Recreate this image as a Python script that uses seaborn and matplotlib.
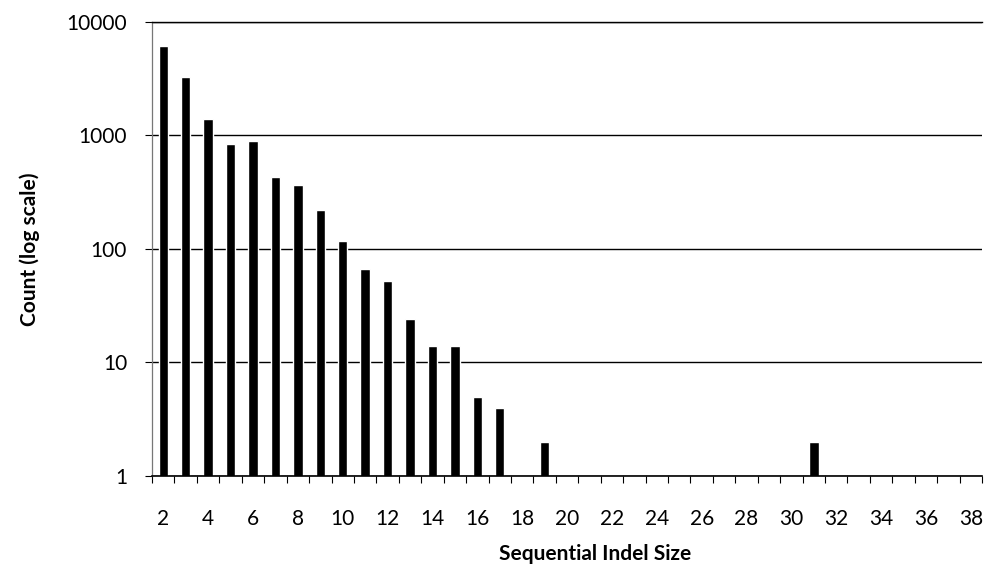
import numpy as np
import pandas as pd
import matplotlib
matplotlib.use("Agg")
import matplotlib.pyplot as plt
import seaborn as sns
from matplotlib.ticker import FixedLocator, FixedFormatter, NullLocator

# Category axis: every indel size from 2 to 38
sizes = list(range(2, 39))

# Observed sizes and their counts
bar_sizes = [2, 3, 4, 5, 6, 7, 8, 9, 10, 11, 12, 13, 14, 15, 16, 17, 19, 31]
counts = [6200, 3300, 1400, 840, 900, 430, 365, 220, 118, 66, 52, 24, 14, 14, 5, 4, 2, 2]

y_ticks = [1, 10, 100, 1000, 10000]
y_tick_labels = ["1", "10", "100", "1000", "10000"]
x_tick_labels = [str(s) if s % 2 == 0 else "" for s in sizes]

sns.set_theme(style="white")
plt.rcParams["font.family"] = ["Lato", "DejaVu Sans"]

fig = plt.figure(figsize=(9.95, 5.78), dpi=100)
ax = fig.add_axes([0.1528, 0.1765, 0.8342, 0.7855])

df = pd.DataFrame({"size": [str(s) for s in bar_sizes], "count": counts})
sns.barplot(data=df, x="size", y="count", order=[str(s) for s in sizes],
            color="black", saturation=1, width=0.42, ax=ax, errorbar=None)
ax.set_yscale("log")

ax.set_xlim(-0.5, len(sizes) - 0.5)
ax.set_ylim(1, 10000)

# y axis: decades only, with horizontal rules
ax.yaxis.set_major_locator(FixedLocator(y_ticks))
ax.yaxis.set_major_formatter(FixedFormatter(y_tick_labels))
ax.yaxis.set_minor_locator(NullLocator())
ax.yaxis.grid(True, color="black", linewidth=1.0)
ax.set_axisbelow(True)

# x axis: labels at category centres, tick marks on the boundaries
ax.set_xticks(range(len(sizes)))
ax.set_xticklabels(x_tick_labels)
ax.set_xticks(np.arange(-0.5, len(sizes), 1.0), minor=True)
ax.tick_params(axis="x", which="major", length=0, pad=24, labelsize=15, colors="black")
ax.tick_params(axis="x", which="minor", bottom=True, length=5, width=0.8,
               direction="out", color="black")
ax.tick_params(axis="y", which="major", left=True, length=5, width=0.8,
               direction="out", color="black", pad=13, labelsize=15, labelcolor="black")

ax.spines["right"].set_visible(False)
ax.spines["top"].set_color("black")
ax.spines["top"].set_linewidth(1.0)
ax.spines["bottom"].set_color("black")
ax.spines["bottom"].set_linewidth(1.2)
ax.spines["left"].set_color("#777777")
ax.spines["left"].set_linewidth(0.9)

ax.set_xlabel("Sequential Indel Size", fontsize=15, fontweight="bold", color="black")
ax.set_ylabel("Count (log scale)", fontsize=15, fontweight="bold", color="black")
ax.xaxis.set_label_coords(0.534, -0.150)
ax.yaxis.set_label_coords(-0.1355, 0.5)

fig.savefig("out.png", dpi=100, facecolor="white")
